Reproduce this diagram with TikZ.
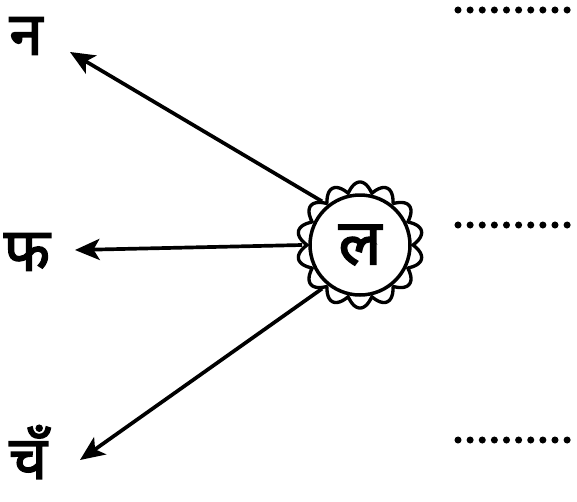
\documentclass[tikz,border=0pt]{standalone}
\usepackage{fontspec}
\newfontfamily\devfont[Script=Devanagari, FakeBold=2.5]{Noto Sans}
\usetikzlibrary{arrows.meta, positioning, calc}

\begin{document}
\begin{tikzpicture}[x=0.02cm, y=-0.02cm,
    letter/.style={font=\devfont\fontsize{34}{38}\selectfont, inner sep=0pt},
    link/.style={line width=2.1pt, -{Stealth[length=14pt, width=12pt, inset=3.5pt]}},
    dotline/.style={line width=4pt, dash pattern=on 0pt off 6.9pt, line cap=round}
  ]
  \useasboundingbox (0,0) rectangle (577,501);
  % centre flower
  \node[circle, draw, line width=2pt, minimum size=2cm, inner sep=0pt,
        font=\devfont\fontsize{36}{40}\selectfont] (la) at (360,245) {ल};
  \draw[line width=1.9pt, shift={(la.center)}]
    plot[domain=0:360, samples=361] (\x:{53+10*abs(sin(7*\x))}) -- cycle;
  \node[circle, minimum size=2.3cm, inner sep=0pt] (petal) at (la.center) {};
  % letters
  \node[letter] (na) at (26,36) {न};
  \node[letter] (pha) at (27,252) {फ};
  \node[letter] (cha) at (28,452) {चँ};
  \coordinate (tipn) at (70,52);
  \coordinate (tipp) at (75,250);
  \coordinate (tipc) at (80,460);
  % arrows
  \draw[link] (petal.131) -- (tipn);
  \draw[link] (petal.180) -- (tipp);
  \draw[link] (petal.229) -- (tipc);
  % answer lines
  \coordinate (d1) at (458,10);
  \coordinate (d2) at (458,225);
  \coordinate (d3) at (458,440);
  \foreach \d in {d1,d2,d3}
    \draw[dotline] (\d) -- ++(119,0);
\end{tikzpicture}
\end{document}
